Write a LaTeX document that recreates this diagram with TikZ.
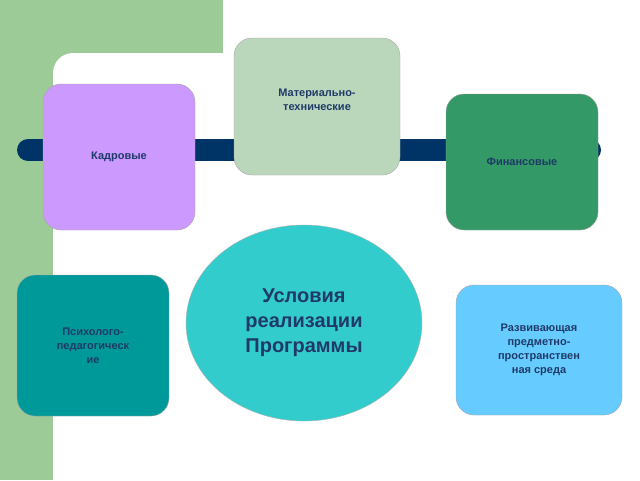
\documentclass[tikz,border=0pt]{standalone}
\usepackage{fontspec}
\setmainfont{Liberation Sans}
\usetikzlibrary{arrows.meta,shapes.geometric}
\definecolor{bggreen}{HTML}{9DCB98}
\definecolor{navy}{HTML}{003366}
\definecolor{txt}{HTML}{1F3A68}
\definecolor{cyanA}{HTML}{33CCCC}
\tikzset{
 box/.style={draw=gray!70, rounded corners=18pt, text=txt, font=\bfseries\fontsize{11}{14}\selectfont, align=center},
 barrow/.style={draw=none, line width=14pt, cyanA, -{Triangle[length=16pt,width=36pt]}},
}
\begin{document}
\begin{tikzpicture}[x=1pt,y=-1pt]
\useasboundingbox (0,0) rectangle (640,480);
\fill[bggreen] (0,0) rectangle (223,480);
\fill[white, rounded corners=20pt] (53,53) rectangle (660,500);
\fill[white] (53,480) rectangle (640,470);
\draw[navy, line width=22pt, line cap=round] (28,150) -- (590,150);
% arrows
\coordinate (a1s) at (185,220); \coordinate (a1e) at (232,252);
\coordinate (a2s) at (314,172); \coordinate (a2e) at (314,221);
\coordinate (a3s) at (468,222); \coordinate (a3e) at (418,274);
\coordinate (a4s) at (165,345); \coordinate (a4e) at (206,345);
\coordinate (a5s) at (460,345); \coordinate (a5e) at (416,345);
\draw[barrow] (a1s) -- (a1e);
\draw[barrow] (a2s) -- (a2e);
\draw[barrow] (a3s) -- (a3e);
\draw[barrow] (a4s) -- (a4e);
\draw[barrow] (a5s) -- (a5e);
\node[box, fill={rgb,255:red,204;green,153;blue,255}, minimum width=152pt, minimum height=146pt] (k) at (119,157) {Кадровые};
\node[box, fill={rgb,255:red,187;green,215;blue,187}, minimum width=166pt, minimum height=137pt] (m) at (317,106.5) {\raisebox{22pt}{\parbox{150pt}{\centering Материально-\\технические}}};
\node[box, fill={rgb,255:red,51;green,153;blue,102}, minimum width=152pt, minimum height=136pt] (f) at (522,162) {Финансовые};
\node[box, fill={rgb,255:red,0;green,153;blue,153}, minimum width=152pt, minimum height=141pt] (p) at (93,345.5) {\raisebox{12pt}{\parbox{140pt}{\centering Психолого-\\педагогическ\\ие}}};
\node[box, fill={rgb,255:red,102;green,204;blue,255}, minimum width=166pt, minimum height=130pt] (r) at (539,350) {Развивающая\\предметно-\\пространствен\\ная среда};
\node[ellipse, draw=gray!60, fill=cyanA, minimum width=236pt, minimum height=196pt, text=txt, font=\bfseries\fontsize{20}{25}\selectfont, align=center] (c) at (304,323) {Условия\\реализации\\Программы};
\end{tikzpicture}
\end{document}
